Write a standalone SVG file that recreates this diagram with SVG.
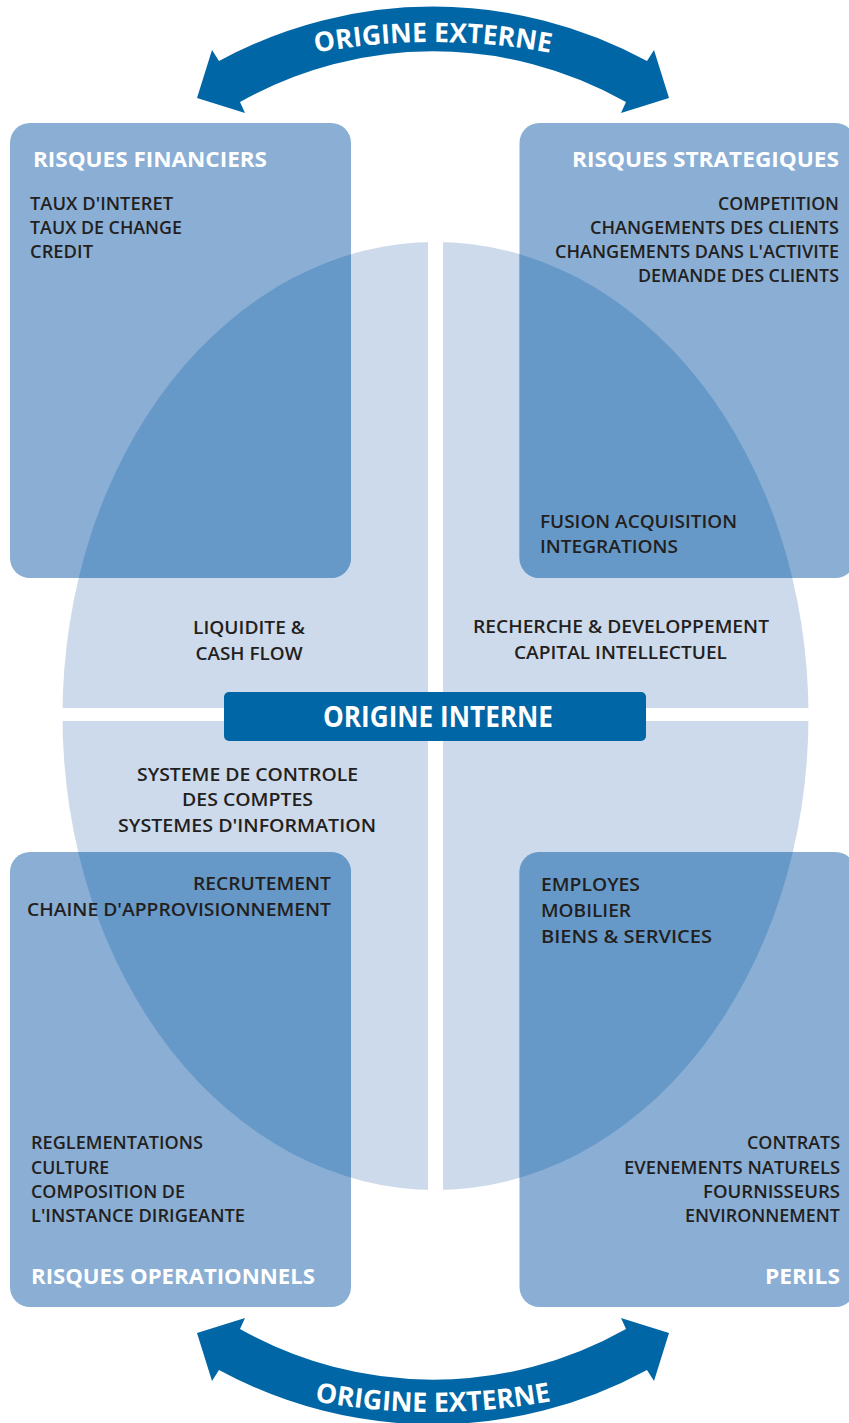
<svg xmlns="http://www.w3.org/2000/svg" width="849" height="1423" viewBox="0 0 849 1423">
<style>
.box{fill:#8aaed4}
.ov{fill:#6699c8}
.ell{fill:#cddaeb}
.b{font-family:"Open Sans","Noto Sans","DejaVu Sans",sans-serif;font-weight:600;font-size:18px;fill:#231f20}
.h{font-family:"Open Sans","Noto Sans","DejaVu Sans",sans-serif;font-weight:700;font-size:22px;fill:#ffffff}
.m{text-anchor:middle}
.e{text-anchor:end}
.arc{fill:#0066a5}
.at{font-family:"Open Sans","Noto Sans","DejaVu Sans",sans-serif;font-weight:700;font-size:27px;fill:#ffffff}
</style>
<defs>
<clipPath id="ellclip"><ellipse cx="435.5" cy="716" rx="373" ry="474"/></clipPath>
<path id="tp-top" d="M133,115.4 A650,650 0 0 1 733,115.4"/>
<path id="tp-bot" d="M133,1338.6 A650,650 0 0 0 733,1338.6"/>
<path id="arrow" d="M219,61 A448,448 0 0 1 647,61 L654,50 L669,98 L621,113 L626,102 A393,393 0 0 0 240,102 L245,113 L197,98 L212,50 Z"/>
</defs>
<rect width="849" height="1423" fill="#ffffff"/>

<g id="origine-interne-zone">
<ellipse class="ell" cx="435.5" cy="716" rx="373" ry="474"/>
<rect x="428" y="230" width="15" height="970" fill="#ffffff"/>
<rect x="50" y="708" width="770" height="13" fill="#ffffff"/>
</g>

<g id="boxes">
<rect class="box" x="10" y="123" width="341" height="455" rx="20"/>
<rect class="box" x="519.5" y="123" width="336" height="455" rx="20"/>
<rect class="box" x="10" y="852" width="341" height="455" rx="20"/>
<rect class="box" x="519.5" y="852" width="336" height="455" rx="20"/>
<g clip-path="url(#ellclip)">
<rect class="ov" x="10" y="123" width="341" height="455" rx="20"/>
<rect class="ov" x="519.5" y="123" width="336" height="455" rx="20"/>
<rect class="ov" x="10" y="852" width="341" height="455" rx="20"/>
<rect class="ov" x="519.5" y="852" width="336" height="455" rx="20"/>
</g>
</g>

<g id="connectors">
<use href="#arrow" class="arc"/>
<use href="#arrow" class="arc" transform="matrix(1,0,0,-1,0,1431)"/>
</g>

<g id="node-externe-haut">
<text class="at" text-anchor="middle"><textPath href="#tp-top" startOffset="50%" textLength="236" lengthAdjust="spacingAndGlyphs">ORIGINE EXTERNE</textPath></text>
</g>
<g id="node-externe-bas">
<text class="at" text-anchor="middle"><textPath href="#tp-bot" startOffset="50%" textLength="238" lengthAdjust="spacingAndGlyphs">ORIGINE EXTERNE</textPath></text>
</g>

<g id="node-risques-financiers">
<text class="h" x="33" y="167" textLength="234" lengthAdjust="spacingAndGlyphs">RISQUES FINANCIERS</text>
<text class="b" x="30" y="210" textLength="143" lengthAdjust="spacingAndGlyphs">TAUX D'INTERET</text>
<text class="b" x="30" y="234" textLength="152" lengthAdjust="spacingAndGlyphs">TAUX DE CHANGE</text>
<text class="b" x="30" y="258" textLength="63" lengthAdjust="spacingAndGlyphs">CREDIT</text>
<text class="b m" x="249" y="634" textLength="112" lengthAdjust="spacingAndGlyphs">LIQUIDITE &amp;</text>
<text class="b m" x="249" y="660" textLength="107" lengthAdjust="spacingAndGlyphs">CASH FLOW</text>
</g>

<g id="node-risques-strategiques">
<text class="h e" x="839" y="167" textLength="267" lengthAdjust="spacingAndGlyphs">RISQUES STRATEGIQUES</text>
<text class="b e" x="839" y="210" textLength="121" lengthAdjust="spacingAndGlyphs">COMPETITION</text>
<text class="b e" x="839" y="234" textLength="249" lengthAdjust="spacingAndGlyphs">CHANGEMENTS DES CLIENTS</text>
<text class="b e" x="839" y="258" textLength="284" lengthAdjust="spacingAndGlyphs">CHANGEMENTS DANS L'ACTIVITE</text>
<text class="b e" x="839" y="282" textLength="201" lengthAdjust="spacingAndGlyphs">DEMANDE DES CLIENTS</text>
<text class="b" x="540" y="528" textLength="197" lengthAdjust="spacingAndGlyphs">FUSION ACQUISITION</text>
<text class="b" x="540" y="553" textLength="138" lengthAdjust="spacingAndGlyphs">INTEGRATIONS</text>
<text class="b m" x="621" y="633" textLength="296" lengthAdjust="spacingAndGlyphs">RECHERCHE &amp; DEVELOPPEMENT</text>
<text class="b m" x="620.5" y="659" textLength="213" lengthAdjust="spacingAndGlyphs">CAPITAL INTELLECTUEL</text>
</g>

<g id="node-origine-interne">
<rect x="224" y="692" width="422" height="49" rx="5" fill="#0066a5"/>
<text class="h m" x="438" y="727" style="font-size:28px" textLength="230" lengthAdjust="spacingAndGlyphs">ORIGINE INTERNE</text>
</g>

<g id="node-risques-operationnels">
<text class="b m" x="247.5" y="781" textLength="221" lengthAdjust="spacingAndGlyphs">SYSTEME DE CONTROLE</text>
<text class="b m" x="247.5" y="806" textLength="131" lengthAdjust="spacingAndGlyphs">DES COMPTES</text>
<text class="b m" x="247" y="832" textLength="258" lengthAdjust="spacingAndGlyphs">SYSTEMES D'INFORMATION</text>
<text class="b e" x="331" y="890" textLength="138" lengthAdjust="spacingAndGlyphs">RECRUTEMENT</text>
<text class="b e" x="331" y="916" textLength="304" lengthAdjust="spacingAndGlyphs">CHAINE D'APPROVISIONNEMENT</text>
<text class="b" x="31" y="1149" textLength="172" lengthAdjust="spacingAndGlyphs">REGLEMENTATIONS</text>
<text class="b" x="31" y="1174" textLength="78" lengthAdjust="spacingAndGlyphs">CULTURE</text>
<text class="b" x="31" y="1198" textLength="154" lengthAdjust="spacingAndGlyphs">COMPOSITION DE</text>
<text class="b" x="31" y="1222" textLength="214" lengthAdjust="spacingAndGlyphs">L'INSTANCE DIRIGEANTE</text>
<text class="h" x="31" y="1284" textLength="284" lengthAdjust="spacingAndGlyphs">RISQUES OPERATIONNELS</text>
</g>

<g id="node-perils">
<text class="b" x="541" y="891" textLength="99" lengthAdjust="spacingAndGlyphs">EMPLOYES</text>
<text class="b" x="541" y="917" textLength="90" lengthAdjust="spacingAndGlyphs">MOBILIER</text>
<text class="b" x="541" y="943" textLength="171" lengthAdjust="spacingAndGlyphs">BIENS &amp; SERVICES</text>
<text class="b e" x="840" y="1149" textLength="93" lengthAdjust="spacingAndGlyphs">CONTRATS</text>
<text class="b e" x="840" y="1174" textLength="216" lengthAdjust="spacingAndGlyphs">EVENEMENTS NATURELS</text>
<text class="b e" x="840" y="1198" textLength="137" lengthAdjust="spacingAndGlyphs">FOURNISSEURS</text>
<text class="b e" x="840" y="1222" textLength="155" lengthAdjust="spacingAndGlyphs">ENVIRONNEMENT</text>
<text class="h e" x="840" y="1284" textLength="75" lengthAdjust="spacingAndGlyphs">PERILS</text>
</g>
</svg>
